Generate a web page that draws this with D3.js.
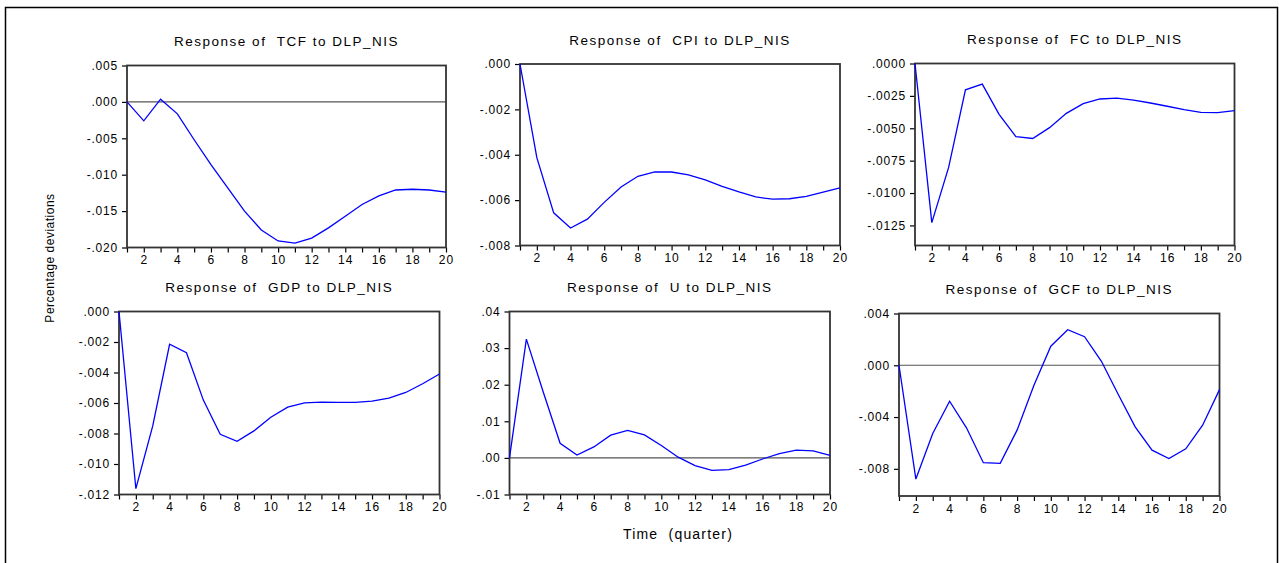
<!DOCTYPE html>
<html>
<head>
<meta charset="utf-8">
<script src="https://cdnjs.cloudflare.com/ajax/libs/d3/7.8.5/d3.min.js"></script>
<style>
  body { margin: 0; background: #fff; }
  text { font-family: Arial, "Liberation Sans", sans-serif; fill: #000; }
</style>
</head>
<body>
<script>
var svgWidth = 1279
var svgHeight = 563

// horizon (quarters)
var periods = [1,2,3,4,5,6,7,8,9,10,11,12,13,14,15,16,17,18,19,20];
var xTickLabels = [2,4,6,8,10,12,14,16,18,20];

// impulse responses to DLP_NIS
var tcf = [0, -0.0026, 0.00037, -0.00164, -0.0052, -0.0086, -0.0118, -0.0150, -0.0176, -0.0191,
           -0.0194, -0.0187, -0.0173, -0.0157, -0.0141, -0.0129, -0.0121, -0.0120, -0.0121, -0.0124];
var cpi = [0, -0.00413, -0.00656, -0.00723, -0.00684, -0.0061, -0.00542, -0.00495, -0.00476, -0.00476,
           -0.00489, -0.00511, -0.00539, -0.00564, -0.00586, -0.00596, -0.00594, -0.00583, -0.00565, -0.00546];
var fc = [0, -0.01228, -0.00802, -0.00203, -0.00159, -0.00392, -0.00564, -0.00579, -0.00495, -0.00385,
          -0.0031, -0.00274, -0.00267, -0.00282, -0.00305, -0.0033, -0.00356, -0.00377, -0.0038, -0.00364];
var gdp = [0, -0.01162, -0.0075, -0.00215, -0.0027, -0.00581, -0.00805, -0.00851, -0.00783, -0.00693,
           -0.00627, -0.00599, -0.00594, -0.00596, -0.00596, -0.00588, -0.00568, -0.00531, -0.00474, -0.0041];
var unemp = [0, 0.03245, 0.0180, 0.0040, 0.0008, 0.0030, 0.0062, 0.0075, 0.0063, 0.0034,
             0.0002, -0.0021, -0.0034, -0.0032, -0.0020, -0.0003, 0.0012, 0.0021, 0.0019, 0.0007];
var gcf = [0, -0.00879, -0.00527, -0.00278, -0.00483, -0.00753, -0.00758, -0.00501, -0.00154, 0.00147,
           0.00275, 0.00221, 0.00031, -0.00226, -0.00476, -0.00656, -0.0072, -0.00645, -0.00463, -0.00188];

// y tick values per panel
var tcfTicks = [0.005, 0, -0.005, -0.010, -0.015, -0.020];
var cpiTicks = [0, -0.002, -0.004, -0.006, -0.008];
var fcTicks = [0, -0.0025, -0.005, -0.0075, -0.010, -0.0125];
var gdpTicks = [0, -0.002, -0.004, -0.006, -0.008, -0.010, -0.012];
var uTicks = [0.04, 0.03, 0.02, 0.01, 0, -0.01];
var gcfTicks = [0.004, 0, -0.004, -0.008];

var panels = [
    {name: "TCF", values: tcf, ticks: tcfTicks, dom: [-0.020, 0.005], dec: 3, zero: true,
     box: {l: 127, t: 65.5, r: 446, b: 247.5}},
    {name: "CPI", values: cpi, ticks: cpiTicks, dom: [-0.008, 0], dec: 3, zero: false,
     box: {l: 520, t: 64, r: 840, b: 245.5}},
    {name: "FC", values: fc, ticks: fcTicks, dom: [-0.01405, 0], dec: 4, zero: false,
     box: {l: 915, t: 63.5, r: 1234.5, b: 245.5}},
    {name: "GDP", values: gdp, ticks: gdpTicks, dom: [-0.012, 0], dec: 3, zero: false,
     box: {l: 119, t: 311.5, r: 439.5, b: 494.5}},
    {name: "U", values: unemp, ticks: uTicks, dom: [-0.01, 0.04], dec: 2, zero: true,
     box: {l: 509.5, t: 311.5, r: 830, b: 494.5}},
    {name: "GCF", values: gcf, ticks: gcfTicks, dom: [-0.0101, 0.004], dec: 3, zero: true,
     box: {l: 899, t: 313.5, r: 1219.5, b: 496}}
];

var svg = d3.select("body").append("svg").attr("width", svgWidth).attr("height", svgHeight);

// outer frame
svg.append("rect").attr("x", 5.5).attr("y", 7.5).attr("width", 1272).attr("height", 565)
    .attr("fill", "none").attr("stroke", "#000").attr("stroke-width", 1.5);

// EViews style: ".005", "-.010"
function fmt(dec) {
    var f = d3.format("." + dec + "f");
    return function(v) {
        if (Math.abs(v) < 1e-12) v = 0;
        return f(v).replace(/\u2212/g, "-").replace(/^(-?)0\./, "$1.");
    };
}

panels.forEach(function(p) {
    var b = p.box;
    var w = b.r - b.l, h = b.b - b.t;
    var g = svg.append("g").attr("transform", `translate(${b.l}, ${b.t})`);

    var x = d3.scaleLinear().domain([1, 20]).range([0, w]);
    var y = d3.scaleLinear().domain(p.dom).range([h, 0]);

    // x axis: ticks at every quarter, labels on even quarters
    var xAxis = d3.axisBottom(x).tickValues(periods).tickSize(5).tickPadding(3)
        .tickFormat(d => xTickLabels.indexOf(d) >= 0 ? d : "");
    var gx = g.append("g").attr("transform", `translate(0,${h})`).call(xAxis);
    gx.select(".domain").remove();
    gx.selectAll("line").attr("stroke", "#000").attr("stroke-width", 1.2);
    gx.selectAll("text").style("font-size", "12px").style("letter-spacing", "1px").attr("fill", "#000");

    var yAxis = d3.axisLeft(y).tickValues(p.ticks).tickSize(5).tickPadding(4).tickFormat(fmt(p.dec));
    var gy = g.append("g").call(yAxis);
    gy.select(".domain").remove();
    gy.selectAll("line").attr("stroke", "#000").attr("stroke-width", 1.2);
    gy.selectAll("text").style("font-size", "12px").style("letter-spacing", "0.8px").attr("fill", "#000");

    if (p.zero) {
        g.append("line").attr("x1", 0).attr("x2", w).attr("y1", y(0)).attr("y2", y(0))
            .attr("stroke", "#555").attr("stroke-width", 1.2);
    }

    // plot frame
    g.append("rect").attr("x", 0).attr("y", 0).attr("width", w).attr("height", h)
        .attr("fill", "none").attr("stroke", "#333").attr("stroke-width", 1.8);

    var line = d3.line().x((d, i) => x(periods[i])).y(d => y(d));
    g.append("path").datum(p.values).attr("d", line)
        .attr("fill", "none").attr("stroke", "#0000ff").attr("stroke-width", 1.3);

    g.append("text").attr("x", w / 2).attr("y", -19.5).attr("text-anchor", "middle")
        .style("font-size", "13.5px").style("letter-spacing", "1.5px").style("white-space", "pre")
        .text("Response of  " + p.name + " to DLP_NIS");
});

// y-axis label
svg.append("text").attr("transform", "translate(54,258) rotate(-90)").attr("text-anchor", "middle")
    .style("font-size", "12px").style("letter-spacing", "0.5px").text("Percentage deviations");

// x-axis label
svg.append("text").attr("x", 678).attr("y", 539).attr("text-anchor", "middle")
    .style("font-size", "14px").style("letter-spacing", "1.2px").style("white-space", "pre").text("Time  (quarter)");
</script>
</body>
</html>
